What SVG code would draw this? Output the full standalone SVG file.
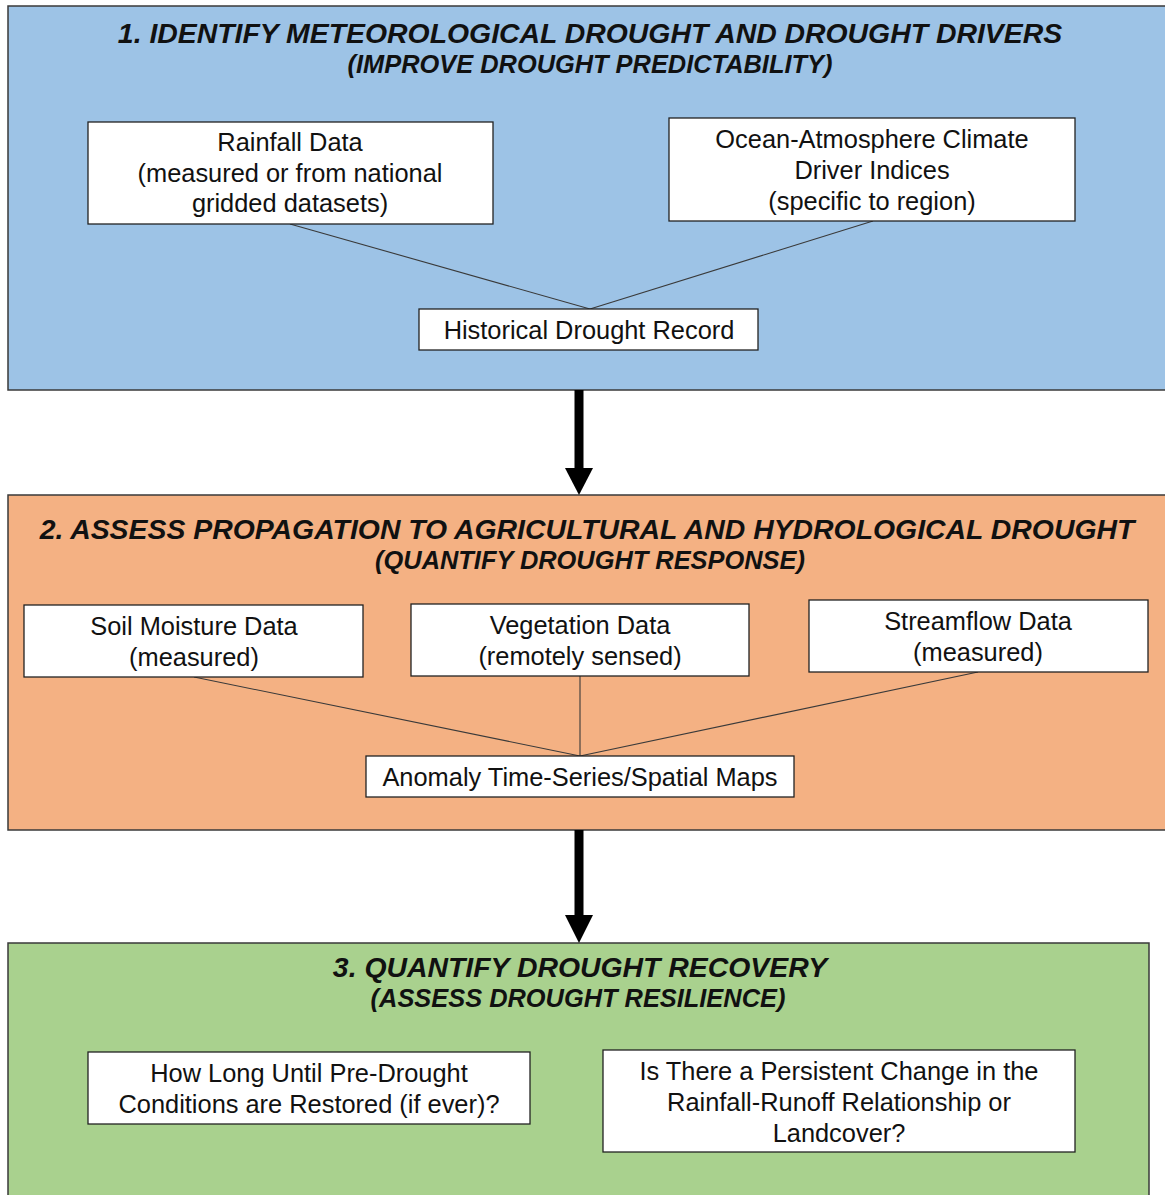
<svg xmlns="http://www.w3.org/2000/svg" width="1165" height="1195" viewBox="0 0 1165 1195">
<style>
.panel{stroke:#3a3a3a;stroke-width:1.5}
.box{fill:#fff;stroke:#222;stroke-width:1.3}
.t{font-family:"Liberation Sans",Arial,sans-serif;fill:#111;text-anchor:middle}
.h1{font-size:28.4px;font-weight:bold;font-style:italic}
.h2{font-size:25.4px;font-weight:bold;font-style:italic}
.b{font-size:25.4px}
.ln{stroke:#3a3a3a;stroke-width:1.1;fill:none}
</style>
<rect width="1165" height="1195" fill="#fff"/>
<g id="panel1">
<rect class="panel" x="8" y="6" width="1170" height="384" fill="#9DC3E6"/>
<text class="t h1" x="590" y="43">1. IDENTIFY METEOROLOGICAL DROUGHT AND DROUGHT DRIVERS</text>
<text class="t h2" x="590" y="73">(IMPROVE DROUGHT PREDICTABILITY)</text>
</g>
<g id="panel2">
<rect class="panel" x="8" y="495" width="1170" height="335" fill="#F4B183"/>
<text class="t h1" x="587" y="539">2. ASSESS PROPAGATION TO AGRICULTURAL AND HYDROLOGICAL DROUGHT</text>
<text class="t h2" x="590" y="569">(QUANTIFY DROUGHT RESPONSE)</text>
</g>
<g id="panel3">
<rect class="panel" x="8" y="943" width="1141" height="270" fill="#A9D18E"/>
<text class="t h1" x="580" y="977">3. QUANTIFY DROUGHT RECOVERY</text>
<text class="t h2" x="578" y="1007">(ASSESS DROUGHT RESILIENCE)</text>
</g>
<g id="connectors">
<line class="ln" x1="290" y1="224" x2="590" y2="309"/>
<line class="ln" x1="873" y1="221" x2="590" y2="309"/>
<line class="ln" x1="194" y1="677" x2="580" y2="756"/>
<line class="ln" x1="580" y1="676" x2="580" y2="756"/>
<line class="ln" x1="978" y1="672" x2="580" y2="756"/>
<rect x="574.5" y="390" width="9" height="79" fill="#000"/>
<polygon points="565,468 593,468 579,495" fill="#000"/>
<rect x="574.5" y="830" width="9" height="87" fill="#000"/>
<polygon points="565,915 593,915 579,943" fill="#000"/>
</g>
<g id="rainfall">
<rect class="box" x="88" y="122" width="405" height="102"/>
<text class="t b" x="290" y="151">Rainfall Data</text>
<text class="t b" x="290" y="182">(measured or from national</text>
<text class="t b" x="290" y="212">gridded datasets)</text>
</g>
<g id="ocean">
<rect class="box" x="669" y="118" width="406" height="103"/>
<text class="t b" x="872" y="148">Ocean-Atmosphere Climate</text>
<text class="t b" x="872" y="179">Driver Indices</text>
<text class="t b" x="872" y="210">(specific to region)</text>
</g>
<g id="historical">
<rect class="box" x="419" y="309" width="339" height="41"/>
<text class="t b" x="589" y="339">Historical Drought Record</text>
</g>
<g id="soil">
<rect class="box" x="24" y="605" width="339" height="72"/>
<text class="t b" x="194" y="635">Soil Moisture Data</text>
<text class="t b" x="194" y="666">(measured)</text>
</g>
<g id="vegetation">
<rect class="box" x="411" y="604" width="338" height="72"/>
<text class="t b" x="580" y="634">Vegetation Data</text>
<text class="t b" x="580" y="665">(remotely sensed)</text>
</g>
<g id="streamflow">
<rect class="box" x="809" y="600" width="339" height="72"/>
<text class="t b" x="978" y="630">Streamflow Data</text>
<text class="t b" x="978" y="661">(measured)</text>
</g>
<g id="anomaly">
<rect class="box" x="366" y="756" width="428" height="41"/>
<text class="t b" x="580" y="786">Anomaly Time-Series/Spatial Maps</text>
</g>
<g id="howlong">
<rect class="box" x="88" y="1052" width="442" height="72"/>
<text class="t b" x="309" y="1082">How Long Until Pre-Drought</text>
<text class="t b" x="309" y="1113">Conditions are Restored (if ever)?</text>
</g>
<g id="isthere">
<rect class="box" x="603" y="1050" width="472" height="102"/>
<text class="t b" x="839" y="1080">Is There a Persistent Change in the</text>
<text class="t b" x="839" y="1111">Rainfall-Runoff Relationship or</text>
<text class="t b" x="839" y="1142">Landcover?</text>
</g>
</svg>
